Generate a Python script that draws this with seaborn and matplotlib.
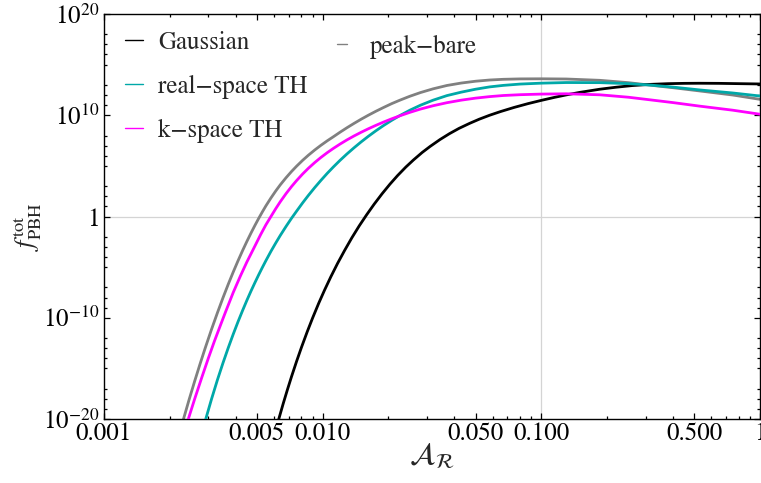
import numpy as np
import pandas as pd
import matplotlib
matplotlib.use("Agg")
import matplotlib.pyplot as plt
import seaborn as sns
from matplotlib.lines import Line2D
from matplotlib.ticker import FixedLocator, FixedFormatter, NullFormatter

# ---- curves: amplitude A_R and log10 of the total PBH abundance ----
gauss_A = [0.0063, 0.0066, 0.0069, 0.0072, 0.0076, 0.0080, 0.0085, 0.0090, 0.0096,
           0.0102, 0.0109, 0.0117, 0.0126, 0.0136, 0.0147, 0.0159, 0.0172, 0.0187,
           0.0203, 0.022, 0.024, 0.026, 0.0285, 0.031, 0.0344, 0.038, 0.042, 0.047,
           0.052, 0.058, 0.065, 0.075, 0.087, 0.1, 0.115, 0.13, 0.15, 0.185, 0.22,
           0.26, 0.315, 0.38, 0.45, 0.53, 0.65, 0.8, 1.0]
gauss_logf = [-20.0, -18.48, -17.10, -15.83, -14.30, -12.92, -11.38, -10.01, -8.55,
              -7.27, -5.95, -4.63, -3.35, -2.10, -0.92, 0.18, 1.22, 2.25,
              3.19, 4.04, 4.88, 5.58, 6.32, 6.92, 7.60, 8.18, 8.70, 9.20,
              9.61, 10.0, 10.36, 10.77, 11.15, 11.47, 11.77, 12.01, 12.26, 12.57, 12.77,
              12.93, 13.05, 13.12, 13.15, 13.16, 13.15, 13.12, 13.09]

real_A = [0.00292, 0.0031, 0.0033, 0.0035, 0.0037, 0.0039, 0.0041, 0.0043, 0.0045,
          0.0047, 0.0049, 0.0051, 0.0053, 0.0055, 0.0058, 0.0061, 0.0064, 0.0068,
          0.0072, 0.0076, 0.0081, 0.0086, 0.0092, 0.0098, 0.0105, 0.0112, 0.012,
          0.0129, 0.0139, 0.015, 0.0162, 0.0175, 0.019, 0.0207, 0.0225, 0.025,
          0.028, 0.032, 0.037, 0.043, 0.05, 0.058, 0.067, 0.08, 0.1, 0.13, 0.185,
          0.25, 0.315, 0.4, 0.53, 0.75, 1.0]
real_logf = [-20.0, -18.06, -16.15, -14.47, -12.97, -11.62, -10.40, -9.30, -8.29,
             -7.37, -6.53, -5.75, -5.03, -4.36, -3.44, -2.62, -1.87, -0.98,
             -0.18, 0.53, 1.35, 2.08, 2.86, 3.55, 4.27, 4.90, 5.54,
             6.17, 6.78, 7.37, 7.93, 8.46, 8.99, 9.50, 9.96, 10.49,
             10.99, 11.49, 11.94, 12.28, 12.57, 12.80, 12.95, 13.08, 13.17, 13.23, 13.22,
             13.12, 12.98, 12.78, 12.50, 12.20, 11.90]

kspace_A = [0.00243, 0.0026, 0.0028, 0.0030, 0.0032, 0.0034, 0.0036, 0.0039, 0.0042,
            0.0045, 0.0048, 0.0052, 0.0055, 0.0058, 0.0061, 0.0064, 0.0068, 0.0072,
            0.0076, 0.0081, 0.0086, 0.0092, 0.0098, 0.0105, 0.0112, 0.012, 0.0129,
            0.0139, 0.015, 0.0162, 0.0175, 0.019, 0.0207, 0.0225, 0.025, 0.028,
            0.032, 0.037, 0.043, 0.05, 0.058, 0.067, 0.08, 0.1, 0.13, 0.185,
            0.25, 0.315, 0.4, 0.53, 0.75, 1.0]
kspace_logf = [-20.0, -18.0, -15.9, -14.0, -12.3, -10.8, -9.4, -7.5, -5.9,
               -4.5, -3.3, -1.8, -0.82, 0.0, 0.77, 1.46, 2.26, 2.95,
               3.55, 4.20, 4.76, 5.33, 5.82, 6.31, 6.73, 7.15, 7.56,
               7.95, 8.32, 8.67, 9.00, 9.33, 9.65, 9.94, 10.28, 10.61,
               10.94, 11.24, 11.49, 11.69, 11.84, 11.95, 12.03, 12.09, 12.12, 12.02,
               11.78, 11.52, 11.25, 10.90, 10.50, 10.10]

peak_A = [0.00231, 0.00245, 0.0026, 0.00275, 0.0029, 0.0031, 0.0033, 0.0035, 0.0037,
          0.0039, 0.0041, 0.0043, 0.0045, 0.0047, 0.0049, 0.0051, 0.0053, 0.0055,
          0.0058, 0.0061, 0.0064, 0.0068, 0.0072, 0.0076, 0.0081, 0.0086, 0.0092,
          0.0098, 0.0105, 0.0112, 0.012, 0.0129, 0.0139, 0.015, 0.0162, 0.0175,
          0.019, 0.0207, 0.0225, 0.025, 0.028, 0.032, 0.037, 0.043, 0.05, 0.058,
          0.067, 0.08, 0.1, 0.13, 0.185, 0.25, 0.315, 0.4, 0.53, 0.75, 1.0]
peak_logf = [-20.0, -18.09, -16.24, -14.56, -13.02, -11.17, -9.52, -8.03, -6.69,
             -5.48, -4.38, -3.38, -2.47, -1.64, -0.88, -0.18, 0.46, 1.05,
             1.83, 2.52, 3.13, 3.83, 4.44, 4.97, 5.55, 6.05, 6.57,
             7.02, 7.48, 7.88, 8.32, 8.76, 9.19, 9.61, 10.01, 10.39,
             10.77, 11.15, 11.48, 11.87, 12.24, 12.61, 12.94, 13.18, 13.36, 13.48,
             13.55, 13.59, 13.60, 13.58, 13.45, 13.22, 12.97, 12.72, 12.40, 12.00, 11.57]

names = ["Gaussian", "real\u2212space TH", "k\u2212space TH", "peak\u2212bare"]
palette = {names[0]: "#000000", names[1]: "#00A8A8",
           names[2]: "#FF00FF", names[3]: "#808080"}
draw_order = [names[3], names[0], names[1], names[2]]

x_major = [0.001, 0.005, 0.01, 0.05, 0.1, 0.5, 1]
x_major_labels = ["0.001", "0.005", "0.010", "0.050", "0.100", "0.500", "1"]
y_major = [1e-20, 1e-10, 1, 1e10, 1e20]
y_major_labels = [r"$10^{-20}$", r"$10^{-10}$", "1", r"$10^{10}$", r"$10^{20}$"]
grid_x = [0.1]
grid_y = [1]

frames = []
for name, A, lf in zip(names, [gauss_A, real_A, kspace_A, peak_A],
                       [gauss_logf, real_logf, kspace_logf, peak_logf]):
    frames.append(pd.DataFrame({"A": A, "f": np.power(10.0, lf), "model": name}))
df = pd.concat(frames, ignore_index=True)

sns.set_theme(style="ticks")
plt.rcParams["font.family"] = ["STIXGeneral", "DejaVu Serif"]
plt.rcParams["mathtext.fontset"] = "stix"

fig = plt.figure(figsize=(7.61, 4.83), dpi=100)
ax = fig.add_axes([104 / 761, 64 / 483, 656 / 761, 405 / 483])

for gx in grid_x:
    ax.axvline(gx, color="#d4d4d4", lw=0.9, zorder=0)
for gy in grid_y:
    ax.axhline(gy, color="#d4d4d4", lw=0.9, zorder=0)

for z, name in enumerate(draw_order):
    sub = df[df["model"] == name]
    sns.lineplot(data=sub, x="A", y="f", color=palette[name], lw=2.0,
                 estimator=None, sort=False, legend=False, ax=ax, zorder=2 + z)

ax.set_xscale("log")
ax.set_yscale("log")
ax.set_xlim(0.001, 1)
ax.set_ylim(1e-20, 1e20)

# ticks
ax.xaxis.set_major_locator(FixedLocator(x_major))
ax.xaxis.set_major_formatter(FixedFormatter(x_major_labels))
x_minor = [m * 10.0 ** k for k in (-3, -2, -1) for m in (2, 3, 4, 6, 7, 8, 9)]
ax.xaxis.set_minor_locator(FixedLocator(x_minor))
ax.xaxis.set_minor_formatter(NullFormatter())

ax.yaxis.set_major_locator(FixedLocator(y_major))
ax.yaxis.set_major_formatter(FixedFormatter(y_major_labels))
y_minor = [10.0 ** (b + o) for b in (-20, -10, 0, 10) for o in (1, 2, 3, 5, 6, 7, 8)]
ax.yaxis.set_minor_locator(FixedLocator(y_minor))
ax.yaxis.set_minor_formatter(NullFormatter())

ax.tick_params(which="both", direction="in", top=True, right=True,
               color="black", width=0.9, labelsize=18, labelcolor="black")
ax.tick_params(which="major", length=4.5)
ax.tick_params(which="minor", length=2.4)
ax.tick_params(axis="x", which="major", pad=2.5)
ax.tick_params(axis="y", which="major", pad=3)

for sp in ax.spines.values():
    sp.set_color("black")
    sp.set_linewidth(1.0)

ax.set_xlabel(r"$\mathcal{A}_{\mathcal{R}}$", fontsize=22)
ax.xaxis.set_label_coords(0.5, -0.058)
ax.set_ylabel(r"$f_{\mathrm{PBH}}^{\mathrm{tot}}$", fontsize=19)
ax.yaxis.set_label_coords(-0.093, 0.475)

# legends
h1 = [Line2D([], [], color=palette[n], lw=1.0) for n in names[:3]]
leg1 = ax.legend(h1, names[:3], loc="upper left", bbox_to_anchor=(0.032, 0.959),
                 frameon=False, fontsize=18, handlelength=0.72,
                 handletextpad=0.6, labelspacing=0.8, borderpad=0, borderaxespad=0)
ax.add_artist(leg1)
h2 = [Line2D([], [], color=palette[names[3]], lw=1.0)]
ax.legend(h2, names[3:], loc="upper left", bbox_to_anchor=(0.355, 0.948),
          frameon=False, fontsize=18, handlelength=0.4,
          handletextpad=0.9, borderpad=0, borderaxespad=0)

fig.savefig("out.png", dpi=100)
